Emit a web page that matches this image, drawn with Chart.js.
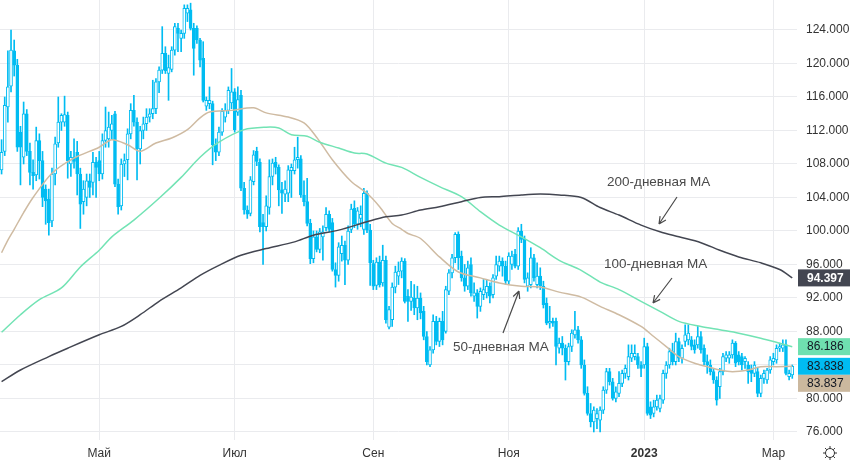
<!DOCTYPE html>
<html>
<head>
<meta charset="utf-8">
<script src="https://cdn.jsdelivr.net/npm/chart.js@4.4.1/dist/chart.umd.min.js"></script>
<style>
  html, body { margin: 0; padding: 0; background: #fff; }
  #wrap { width: 850px; height: 465px; }
</style>
</head>
<body>
<div id="wrap"><canvas id="myChart"></canvas></div>
<script>
// дневные свечи, индекс = торговый день
const openP = [
  107.3, 109.5, 114.8, 117.3, 121.5, 119.8, 111.8, 108.8, 114, 109.5, 107, 106.7,
  110.8, 108.4, 105, 103.8, 101.2, 106.8, 110.5, 113, 113, 113.8, 108, 108.8,
  109.4, 106.8, 103.5, 104, 106, 105.8, 108.2, 108.4, 106.8, 110.8, 111, 112,
  114, 105.6, 103, 108, 108.5, 111.6, 114.4, 113, 109.8, 112, 112.8, 113.6,
  114, 114.6, 117.8, 119.2, 121.2, 118.8, 119.3, 121.6, 124.2, 123, 123.6, 126,
  126.4, 124.2, 124.2, 122.8, 120.6, 114.9, 115.2, 115.2, 110.3, 109.4, 111.8, 113.6,
  114.4, 115.3, 116.6, 114.2, 116.2, 105.1, 102.5, 102.1, 105.9, 109.5, 108.2, 101,
  100.5, 102.8, 106.5, 108.2, 107.6, 104.9, 104.4, 104.5, 107.2, 107.2, 108.5, 108.6,
  104.3, 103.5, 100.9, 96.7, 99.3, 97.8, 99.3, 100.4, 102, 101, 95.4, 94.7,
  97.3, 98.3, 96.5, 100.2, 102.7, 100.8, 101.5, 100.2, 104.5, 100.1, 96.1, 93.5,
  96.3, 93.8, 96.5, 88.5, 89.4, 93.3, 94.6, 95.2, 96.4, 92.2, 91.6, 92,
  90.8, 92, 90.4, 87.4, 84, 85.8, 89.2, 86.8, 89.2, 88, 92.8, 95,
  96.8, 99.6, 97, 94.4, 93.4, 96, 92.2, 92.6, 91, 92.4, 92.6, 93.4,
  92.4, 94.6, 95.8, 96.4, 95.8, 94, 96, 97.2, 95.8, 100, 99, 93.4,
  93.6, 96.8, 93.6, 94.6, 93.4, 91.4, 89, 89.2, 89.2, 86, 86.6, 86,
  84.4, 86.2, 87.6, 88.2, 87, 84, 80.6, 78.2, 77.2, 77.6, 77.4, 78.6,
  81, 83.2, 82, 80, 80.6, 81.8, 83, 82.6, 84.8, 85, 85, 84,
  84, 86.2, 79, 78.2, 79, 78.8, 79.8, 83, 84, 85.6, 84.4, 86.8,
  84.8, 86.8, 87, 87, 86.4, 86.4, 87.4, 86, 84.4, 84, 83.2, 82.2,
  81.4, 83.2, 84.8, 84.8, 85.2, 86.6, 85.2, 85, 84.4, 84, 83.4, 83,
  83.2, 80.6, 82.4, 82.2, 83.4, 84.4, 84.6, 86, 86, 86.4, 82.6, 82.8
];
const highP = [
  110.9, 116, 121.5, 124, 122.8, 120.5, 112.5, 115.4, 114.5, 110.5, 108.5, 112.4,
  111.6, 109.5, 105.5, 105, 107.5, 111.2, 116, 114, 116.1, 114.2, 109.5, 111,
  110.7, 107.5, 106, 106.8, 106.8, 109.4, 108.8, 109.5, 111.6, 114.8, 114.2, 113.8,
  114.3, 106.2, 108.6, 109.2, 112.2, 115.2, 116.2, 113.5, 112.5, 113.6, 114.6, 114.6,
  118, 118.2, 119.6, 124.4, 122, 121, 122, 124.8, 124.8, 124, 127, 127,
  127.2, 124.8, 124.5, 123, 122.6, 116, 117.2, 115.5, 111, 112.4, 114.6, 115.2,
  117.2, 119.4, 117, 117.2, 116.8, 105.8, 103, 106.5, 109.6, 110, 108.6, 102,
  104.2, 108.5, 108.6, 108.8, 107.9, 105.8, 106, 107.8, 108, 110, 111.2, 109,
  106, 106.3, 101.4, 100, 100, 100.3, 100.6, 102.8, 102.4, 101.5, 96.2, 98.6,
  99.4, 98.8, 100.6, 103.2, 103.6, 102.8, 103, 105.1, 104.8, 100.8, 96.5, 96.8,
  97, 98.3, 97, 91, 93.8, 95.8, 96.3, 96.8, 96.7, 93, 94, 93.6,
  93.4, 92.6, 91, 88, 86.2, 90, 89.8, 89.6, 90.4, 93.4, 95.4, 97.2,
  99.8, 99.9, 97.6, 96, 96.4, 96.8, 93.8, 93, 93.2, 94.2, 94.2, 93.8,
  94.8, 97, 97, 96.8, 96.4, 97.4, 97.6, 97.8, 100.4, 100.8, 99.4, 95,
  98, 97.2, 96.2, 95.6, 94, 92, 91, 89.6, 89.6, 87.2, 87.4, 86.4,
  86.6, 88.2, 90.4, 88.6, 87.4, 84.6, 81.4, 79.4, 79, 78.8, 79, 81.4,
  83.6, 83.6, 82.4, 81.4, 83.2, 83.4, 84, 86.4, 86.4, 86.4, 85.4, 84.4,
  87.2, 86.6, 79.6, 79.8, 80.4, 80.4, 83.4, 84.4, 86, 86.6, 87.8, 87.2,
  86.4, 88.8, 88.8, 87.4, 87, 88.6, 88, 86.4, 85.2, 84.6, 83.6, 82.6,
  83.6, 85.4, 85.6, 85.6, 87, 86.8, 85.6, 85.4, 85, 84.4, 84, 84.4,
  83.6, 82.8, 83.4, 83.6, 85, 85.4, 86.4, 86.6, 87, 87, 83.4, 84
];
const lowP = [
  106.8, 109, 113, 116.6, 118.5, 109.5, 105.5, 108, 109, 105.5, 105, 106,
  106.2, 102.9, 100.8, 99.5, 100.5, 105.5, 110, 112, 112.5, 106.3, 106.5, 107.5,
  104.3, 100.3, 102, 103, 104, 104.3, 104, 106, 106.2, 110, 110, 111,
  105.3, 102, 102.5, 106.5, 106.1, 111, 112.5, 106.1, 108, 111, 112, 113,
  113.4, 114, 116.5, 118.8, 118.8, 115.6, 119, 121, 121.4, 121.4, 123, 125,
  124, 118.6, 122.4, 119.6, 115.4, 114.4, 114.6, 107.9, 108.4, 109, 111.4, 113,
  114, 114.6, 111.8, 113.8, 104.8, 102, 101.5, 101.8, 105.5, 107.8, 99.9, 96,
  100, 102, 105.5, 106.8, 103, 102.1, 103.5, 103.5, 104, 106.8, 107.5, 104,
  103, 100.6, 96.1, 96.2, 97.5, 97.4, 96.5, 100, 99.9, 95.2, 93.3, 94,
  96.4, 93.6, 96, 99.8, 100.4, 100.2, 100.5, 99.6, 99.8, 93.5, 93, 93,
  93.3, 93.4, 89, 88.3, 88.6, 92.6, 93.6, 94.4, 91.4, 89.2, 90.5, 90,
  89.4, 89.5, 87, 84, 83.8, 85.4, 86.4, 86.2, 86.4, 87.8, 92.4, 94.4,
  96.2, 95.4, 94, 92.8, 93, 92.2, 91.6, 89.6, 90.4, 91.8, 92, 91.4,
  92, 94.2, 95.2, 94.6, 93.6, 93.6, 95.4, 95.6, 95.4, 98.6, 93.8, 92.8,
  93.2, 94, 93.2, 93, 90.8, 88.8, 88.4, 88.6, 84, 85.4, 85.2, 82.2,
  84, 85.6, 87.2, 86.6, 83.6, 80.4, 78, 76.6, 76, 76.4, 76, 78.2,
  80.6, 81.6, 79.8, 79.6, 80.2, 81.4, 82.4, 82.2, 84.4, 84.6, 83.6, 82.6,
  83.6, 78, 77.6, 77.8, 78.6, 78.4, 79.4, 82.4, 83.6, 84, 84, 84.4,
  84.2, 86.2, 86.4, 85.8, 85.4, 86, 85.4, 84, 83, 82.8, 81.8, 79.2,
  80, 82.8, 84.4, 84.2, 84.8, 83.8, 84, 83.4, 83.6, 81.8, 82, 82.6,
  80.2, 80.2, 81.8, 81.8, 83, 84, 84.2, 85.6, 85.6, 82.8, 82.2, 82.4
];
const closeP = [
  109.4, 115, 117.2, 121.6, 119.8, 110, 110, 114, 109.5, 107, 106.6, 110.8,
  108.4, 104, 103.6, 101, 106.8, 110.4, 113, 113.8, 113.9, 108.4, 108.8, 108.3,
  106.8, 103.2, 105, 106, 105.2, 108.2, 107.6, 106.8, 110.8, 112, 112.4, 112.8,
  105.6, 102.9, 108, 108.4, 111.6, 114.4, 113, 109.8, 112, 112.8, 113.6, 114,
  114.6, 117.8, 119.2, 121.2, 119.1, 119.5, 121.6, 124.4, 123.6, 123.6, 126.6, 126.6,
  124.2, 121.8, 122.8, 120.4, 115.6, 115.6, 115.6, 110.3, 109.4, 111.8, 114.3, 114.4,
  116.8, 116.6, 112.1, 115.7, 105.1, 102.5, 102, 106.1, 109.1, 108.3, 100.5, 100.5,
  103, 106.5, 108.1, 107.6, 104.9, 104.5, 105, 107.3, 107.6, 108.5, 108.8, 104.3,
  103.5, 100.9, 96.7, 99.3, 97.8, 99.9, 99.9, 102, 100.2, 95.4, 94.7, 98.1,
  98.3, 96.5, 100, 102.6, 100.8, 102.4, 102, 104.5, 100.1, 96.2, 93.4, 96.3,
  93.6, 96.5, 89.4, 90.6, 93.3, 95.1, 95.2, 96.4, 91.6, 91.6, 92.1, 90.8,
  92, 90.2, 87.4, 84.4, 85.8, 89.2, 86.8, 89.2, 87, 93, 95, 96.8,
  99.6, 96.8, 94.4, 93.4, 95.6, 92.6, 92.6, 91, 92.8, 93, 93.4, 92.2,
  94.4, 96, 96.4, 95.8, 94, 97, 97, 95.8, 100, 99, 94.2, 94.4,
  96.8, 94.4, 94.6, 93.4, 91.2, 89, 89.2, 89, 86.2, 86.6, 86, 84.4,
  86.2, 87.8, 88.2, 87, 84, 80.6, 78.2, 77.2, 78.6, 78.2, 78.6, 81,
  83.2, 82, 80, 80.8, 81.8, 83, 83.6, 85, 85.4, 85.4, 84, 83.6,
  86.2, 78.2, 78, 79, 79.8, 80, 83, 84, 85.6, 84.4, 86.8, 84.8,
  86, 87.6, 87.8, 86.2, 85.8, 87.4, 85.8, 84.4, 84, 83.2, 82.2, 79.8,
  83.2, 85, 85.2, 85.2, 86.6, 84.2, 84.4, 84, 84.8, 83.2, 83, 84,
  80.6, 82.4, 83, 83.4, 84.6, 84.8, 86, 86.2, 86.4, 83, 83, 83.838
];

// скользящие средние: [индекс дня, значение]
const ma50 = [
  [0, 97.4], [2, 98.9], [4, 100.2], [7, 102.2], [10, 104], [16, 106.9], [23, 108.7],
  [31, 110], [35, 110.9], [40, 110.3], [44, 109.5], [49, 110.5], [54, 111.1],
  [59, 112.1], [63, 113.5], [66, 114.2], [73, 114.4], [80, 114.7], [84, 114.1],
  [91, 113.6], [96, 112.9], [100, 111.2], [105, 108.5], [111, 105.9], [116, 104.5],
  [120, 102.9], [124, 100.9], [127, 100.2], [129, 99.7], [133, 99.1], [139, 96.9],
  [145, 95.1], [152, 94.4], [158, 93.8], [165, 93.4], [171, 93.3], [177, 92.7],
  [184, 92.1], [190, 91], [196, 90], [203, 88.6], [207, 87.4], [211, 86.2],
  [215, 85], [220, 84.2], [224, 83.8], [228, 83.4], [232, 83.2], [237, 83.4],
  [241, 83.8], [246, 83.8], [251, 83.837]
];
const ma100 = [
  [0, 87.9], [6, 90], [12, 91.8], [19, 93.2], [25, 95.7], [31, 97.7], [35, 99.3],
  [42, 101.3], [50, 103.9], [57, 106.4], [63, 108.8], [69, 110.6], [77, 112.1],
  [84, 112.4], [88, 112.3], [92, 111.5], [97, 111.3], [101, 110.6], [107, 109.9],
  [112, 109.3], [116, 109.2], [122, 108.1], [127, 107.6], [133, 106.4], [139, 105.3],
  [146, 104.1], [152, 102.3], [158, 100.7], [165, 99.3], [171, 98], [177, 96.5],
  [184, 95.3], [190, 93.9], [196, 93], [203, 91.6], [209, 90.4], [215, 89.2],
  [222, 88.6], [228, 88.2], [234, 87.8], [241, 87.2], [247, 86.6], [251, 86.186]
];
const ma200 = [
  [0, 82], [6, 83.4], [15, 85], [21, 86], [31, 87.6], [38, 88.6], [44, 90],
  [50, 91.6], [57, 93.2], [63, 94.7], [69, 95.9], [76, 97.1], [84, 97.9],
  [93, 98.7], [99, 99.5], [107, 100.1], [116, 101.1], [122, 101.7], [127, 101.9],
  [133, 102.5], [139, 102.9], [146, 103.5], [152, 104], [158, 104.1], [165, 104.3],
  [171, 104.4], [177, 104.3], [184, 104], [190, 102.8], [196, 101.9], [203, 100.7],
  [209, 99.9], [215, 99.3], [222, 98.6], [228, 97.7], [234, 96.9], [241, 96.2],
  [247, 95.4], [251, 94.397]
];

const xTickIdx = [31, 74, 118, 161, 204, 245];
const xTickLabels = ["Май", "Июл", "Сен", "Ноя", "2023", "Мар"];
const yTicks = [76, 80, 84, 88, 92, 96, 100, 104, 108, 112, 116, 120, 124, 128];

const candleColor = "#00bcf2";
const ma50Color = "#cfbba2";
const ma100Color = "#72e3b4";
const ma200Color = "#434651";
const gridColor = "#eaebee";
const fontFamily = "'Liberation Sans', Arial, sans-serif";

const wicks = closeP.map((c, i) => ({ x: i, y: [lowP[i], highP[i]] }));
const bodies = closeP.map((c, i) => ({ x: i, y: [openP[i], c] }));
const toPoints = (arr) => arr.map(([x, y]) => ({ x, y }));

const lastOf = (arr) => arr[arr.length - 1][1];

const overlay = {
  id: "overlay",
  afterDraw: (chart) => {
    const { ctx, scales } = chart;
    const yS = scales.y;
    ctx.save();

    // метки последних значений справа
    const tags = [
      { v: lastOf(ma200), bg: ma200Color, fg: "#ffffff", bold: true },
      { v: lastOf(ma100), bg: "#6fe0b0", fg: "#131722" },
      { v: closeP[closeP.length - 1], bg: candleColor, fg: "#131722" },
      { v: lastOf(ma50), bg: "#cbb89e", fg: "#131722" },
    ];
    const h = 17;
    let prevBottom = -Infinity;
    const left = chart.chartArea.right + 1;
    tags
      .map((t) => ({ ...t, y: yS.getPixelForValue(t.v) - h / 2 }))
      .forEach((t) => {
        let top = Math.max(t.y, prevBottom);
        prevBottom = top + h;
        ctx.fillStyle = t.bg;
        ctx.fillRect(left, top, chart.width - left, h);
        ctx.fillStyle = t.fg;
        ctx.font = (t.bold ? "bold " : "") + "12px " + fontFamily;
        ctx.textAlign = "left";
        ctx.textBaseline = "middle";
        ctx.fillText(t.v.toFixed(3), left + 9, top + h / 2 + 0.5);
      });

    // подписи со стрелками
    const notes = [
      { text: "200-дневная MA", tx: 607, ty: 182, from: [677, 197], to: [659, 224] },
      { text: "100-дневная MA", tx: 604, ty: 264, from: [672, 278], to: [653, 303] },
      { text: "50-дневная MA", tx: 453, ty: 347, from: [503, 333], to: [519, 291] },
    ];
    ctx.font = "13.5px " + fontFamily;
    ctx.textBaseline = "middle";
    ctx.textAlign = "left";
    notes.forEach((n) => {
      ctx.fillStyle = "#4a4a4a";
      ctx.fillText(n.text, n.tx, n.ty);
      ctx.strokeStyle = "#4a4a4a";
      ctx.lineWidth = 1.2;
      ctx.beginPath();
      ctx.moveTo(n.from[0], n.from[1]);
      ctx.lineTo(n.to[0], n.to[1]);
      const ang = Math.atan2(n.to[1] - n.from[1], n.to[0] - n.from[0]);
      const len = 8;
      [0.45, -0.45].forEach((d) => {
        ctx.moveTo(n.to[0], n.to[1]);
        ctx.lineTo(n.to[0] - len * Math.cos(ang + d), n.to[1] - len * Math.sin(ang + d));
      });
      ctx.stroke();
    });

    // значок настроек
    const gx = 830, gy = 453;
    ctx.strokeStyle = "#333";
    ctx.lineWidth = 1;
    ctx.beginPath();
    ctx.arc(gx, gy, 4.5, 0, Math.PI * 2);
    for (let k = 0; k < 8; k++) {
      const a = (k * Math.PI) / 4;
      ctx.moveTo(gx + 4.5 * Math.cos(a), gy + 4.5 * Math.sin(a));
      ctx.lineTo(gx + 7 * Math.cos(a), gy + 7 * Math.sin(a));
    }
    ctx.stroke();
    ctx.restore();
  },
};

const ctx = document.getElementById("myChart");

new Chart(ctx, {
  type: "bar",
  data: {
    datasets: [
      {
        type: "line",
        data: toPoints(ma200),
        borderColor: ma200Color,
        borderWidth: 1.5,
        pointRadius: 0,
        tension: 0.3,
        order: 1,
      },
      {
        type: "line",
        data: toPoints(ma100),
        borderColor: ma100Color,
        borderWidth: 1.5,
        pointRadius: 0,
        tension: 0.3,
        order: 1,
      },
      {
        type: "line",
        data: toPoints(ma50),
        borderColor: ma50Color,
        borderWidth: 1.5,
        pointRadius: 0,
        tension: 0.3,
        order: 1,
      },
      {
        type: "bar",
        data: wicks,
        backgroundColor: candleColor,
        borderWidth: 0,
        barThickness: 1,
        grouped: false,
        order: 3,
      },
      {
        type: "bar",
        data: bodies,
        backgroundColor: (c) =>
          closeP[c.dataIndex] >= openP[c.dataIndex] ? "#ffffff" : candleColor,
        borderColor: candleColor,
        borderWidth: 1,
        borderSkipped: false,
        barThickness: 3,
        grouped: false,
        order: 2,
      },
    ],
  },
  options: {
    responsive: true,
    maintainAspectRatio: false,
    animation: false,
    layout: { padding: 0 },
    plugins: {
      legend: { display: false },
      tooltip: { enabled: false },
    },
    scales: {
      x: {
        type: "linear",
        min: -0.5,
        max: 252.5,
        offset: false,
        afterBuildTicks: (s) => {
          s.ticks = xTickIdx.map((v) => ({ value: v }));
        },
        afterFit: (s) => {
          s.height = 25;
          s.paddingLeft = 0;
          s.paddingRight = 0;
        },
        ticks: {
          autoSkip: false,
          maxRotation: 0,
          padding: 6,
          color: "#333333",
          callback: (v) => xTickLabels[xTickIdx.indexOf(v)],
          font: (c) => ({
            family: fontFamily,
            size: 12,
            weight: c.tick && c.tick.value === 204 ? "bold" : "normal",
          }),
        },
        grid: { color: gridColor, drawTicks: false, offset: false },
        border: { display: false },
      },
      y: {
        type: "linear",
        position: "right",
        min: 75.04,
        max: 127.58,
        afterBuildTicks: (s) => {
          s.ticks = yTicks.map((v) => ({ value: v }));
        },
        afterFit: (s) => {
          s.width = 53;
          s.paddingTop = 0;
          s.paddingBottom = 0;
        },
        ticks: {
          padding: 9,
          autoSkip: false,
          color: "#333333",
          font: { family: fontFamily, size: 12 },
          callback: (v) => v.toFixed(3),
        },
        grid: { color: gridColor, drawTicks: false },
        border: { display: false },
      },
    },
  },
  plugins: [overlay],
});
</script>
</body>
</html>
